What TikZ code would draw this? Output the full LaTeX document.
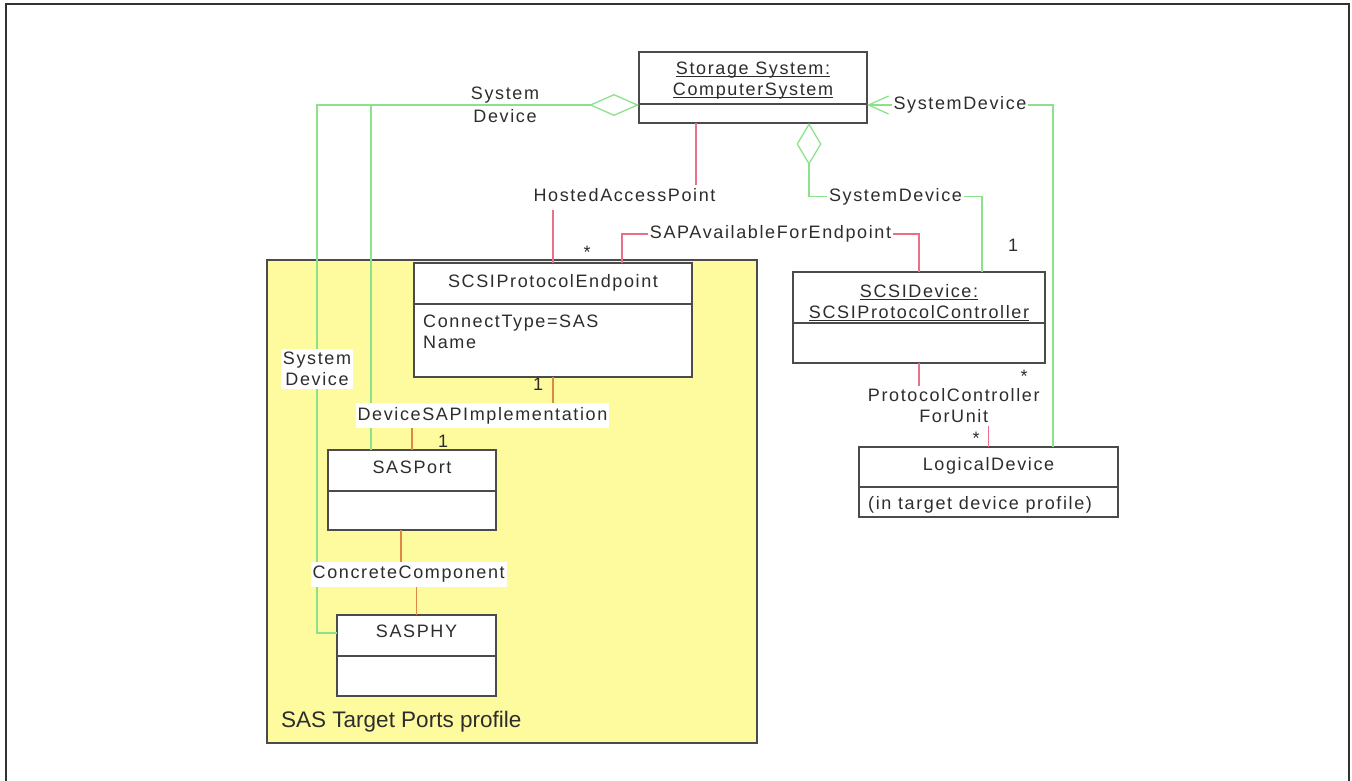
\documentclass[tikz,border=0pt]{standalone}
\usepackage{fontspec}
\setmainfont{Liberation Sans}[LetterSpace=9]
\newfontfamily\pkgfont{Liberation Sans}
\usetikzlibrary{positioning, arrows.meta, calc}

\definecolor{boxgray}{RGB}{75,75,75}
\definecolor{textgray}{RGB}{45,45,45}
\definecolor{linkred}{RGB}{232,112,136}
\definecolor{linkorange}{RGB}{222,136,72}
\definecolor{linkgreen}{RGB}{140,226,140}
\definecolor{pkgyellow}{RGB}{253,251,158}
\definecolor{framegray}{RGB}{50,50,50}

\newcommand{\diafont}{\fontsize{18}{21}\selectfont}
\newcommand{\ulname}[1]{\setbox0\hbox{#1}\rlap{\rule[-2.5pt]{\wd0}{0.9pt}}\box0}

\tikzset{
x=1pt, y=-1pt, % one unit is one pixel of the sketch, y grows downwards
every node/.style={font=\diafont, text=textgray}, % all texts in the same face
cls/.style={draw=boxgray, fill=white, line width=1.4pt, inner sep=0pt, outer sep=0pt}, % a class box, its texts go in on their own
sepline/.style={draw=boxgray, line width=1.4pt}, % line under the class name
pkg/.style={draw=boxgray, fill=pkgyellow, line width=2.2pt, inner sep=0pt, outer sep=0pt}, % the profile package
title/.style={text height=13pt, text depth=4pt, inner sep=0pt}, % one line of text
title2/.style={align=center, inner sep=0pt}, % two lines of text
lbl/.style={title, fill=white, inner xsep=2pt, inner ysep=4pt}, % association name on its link
lbl2/.style={title2, fill=white, inner xsep=2pt, inner ysep=3pt}, % same, on two lines
sdtext/.style={title2, font=\fontsize{18}{23}\selectfont}, % name that the link runs through
mult/.style={title}, % multiplicity
redlink/.style={draw=linkred, line width=1.3pt},
orangelink/.style={draw=linkorange, line width=1.3pt}, % red links look orange on the yellow
sdlink/.style={draw=linkgreen, line width=1.3pt}, % SystemDevice links
aggh/.style={arrows={Diamond[length=50pt, width=22pt, fill=white]-}}, % aggregation, sideways
aggv/.style={arrows={Diamond[length=42pt, width=25pt, fill=white]-}}, % aggregation, upright
navtip/.style={arrows={Straight Barb[length=20pt, width=18pt]-}}, % open arrow at the system
frame/.style={draw=framegray, line width=2.5pt},
}

\begin{document}
\begin{tikzpicture}
\useasboundingbox (0,0) rectangle (1352,781);
\draw[frame] (6,781) -- (6,4) -- (1349,4) -- (1349,781);

% the profile package
\node[pkg, anchor=north west, minimum width=490pt, minimum height=483pt] (pkg) at (267,260) {};
\node[anchor=base west, inner sep=0pt, font=\pkgfont\fontsize{22.5}{26}\selectfont] (pkgname) at (281,727) {SAS Target Ports profile};

% class boxes
\node[cls, minimum width=228pt, minimum height=71pt] (css) at (753,87.5) {};
\node[cls, minimum width=278pt, minimum height=114pt] (spe) at (553,320) {};
\node[cls, minimum width=252pt, minimum height=91pt] (spc) at (919,317.5) {};
\node[cls, minimum width=259pt, minimum height=70pt] (ld) at (988.5,482) {};
\node[cls, minimum width=168pt, minimum height=80pt] (sp) at (412,490) {};
\node[cls, minimum width=159pt, minimum height=81pt] (phy) at (416.5,655.5) {};

\draw[sepline] ($(css.north west)+(0,52)$) -- ($(css.north east)+(0,52)$);
\draw[sepline] ($(spe.north west)+(0,41)$) -- ($(spe.north east)+(0,41)$);
\draw[sepline] ($(spc.north west)+(0,51)$) -- ($(spc.north east)+(0,51)$);
\draw[sepline] ($(ld.north west)+(0,40)$) -- ($(ld.north east)+(0,40)$);
\draw[sepline] ($(sp.north west)+(0,41)$) -- ($(sp.north east)+(0,41)$);
\draw[sepline] ($(phy.north west)+(0,41)$) -- ($(phy.north east)+(0,41)$);

\node[title2, below=10pt of css.north] (css-t) {\ulname{Storage System:}\\\ulname{ComputerSystem}};
\node[title, below=11pt of spe.north] (spe-t) {SCSIProtocolEndpoint};
\node[title2, align=left, below right=52pt and 9pt of spe.north west] (spe-a) {ConnectType=SAS\\Name};
\node[title2, below=12pt of spc.north] (spc-t) {\ulname{SCSIDevice:}\\\ulname{SCSIProtocolController}};
\node[title, below=10.5pt of ld.north] (ld-t) {LogicalDevice};
\node[title, below right=49pt and 9pt of ld.north west] (ld-a) {(in target device profile)};
\node[title, below=10pt of sp.north] (sp-t) {SASPort};
\node[title, below=9pt of phy.north] (phy-t) {SASPHY};

% SystemDevice links
\draw[sdlink, aggh] ([yshift=-17.5pt]css.west) -| node[sdtext, pos=0.25] {System\\Device} ([xshift=-41pt]sp.north);
\coordinate (aggend) at ([xshift=-50pt, yshift=-17.5pt]css.west);
\draw[sdlink] (aggend) -| node[lbl2, pos=0.75] {System\\Device} ([xshift=-20pt, yshift=22.5pt]phy.west) -- ([yshift=22.5pt]phy.west);
\draw[sdlink, aggv] ([xshift=56pt]css.south) -- ++(0,73.5) -| node[lbl, pos=0.25] {SystemDevice} ([xshift=63pt]spc.north);
\draw[sdlink, navtip] ([yshift=-17.5pt]css.east) -| node[lbl, pos=0.25] {SystemDevice} ([xshift=64.5pt]ld.north);

% the other links
\draw[redlink] ([xshift=-57pt]css.south) -- ++(0,74) -| node[lbl, pos=0.25] {HostedAccessPoint} (spe.north);
\draw[redlink] ([xshift=69pt]spe.north) -- ++(0,-29) -| node[lbl, pos=0.25] {SAPAvailableForEndpoint} (spc.north);
\draw[orangelink] (spe.south) -- ++(0,38.5) -| node[lbl, pos=0.25] {DeviceSAPImplementation} (sp.north);
\draw[orangelink] ([xshift=-11pt]sp.south) -- ++(0,44) -| node[lbl, pos=0.25] {ConcreteComponent} (phy.north);
\draw[redlink] (spc.south) -- ++(0,43) -| node[lbl2, pos=0.25] {ProtocolController\\ForUnit} (ld.north);

% multiplicities
\node[mult] (m1) at (587,254) {*};
\node[mult] (m2) at (538,386) {1};
\node[mult] (m3) at (443,443) {1};
\node[mult] (m4) at (1013,247) {1};
\node[mult] (m5) at (1024,378) {*};
\node[mult] (m6) at (976,440) {*};
\end{tikzpicture}
\end{document}
